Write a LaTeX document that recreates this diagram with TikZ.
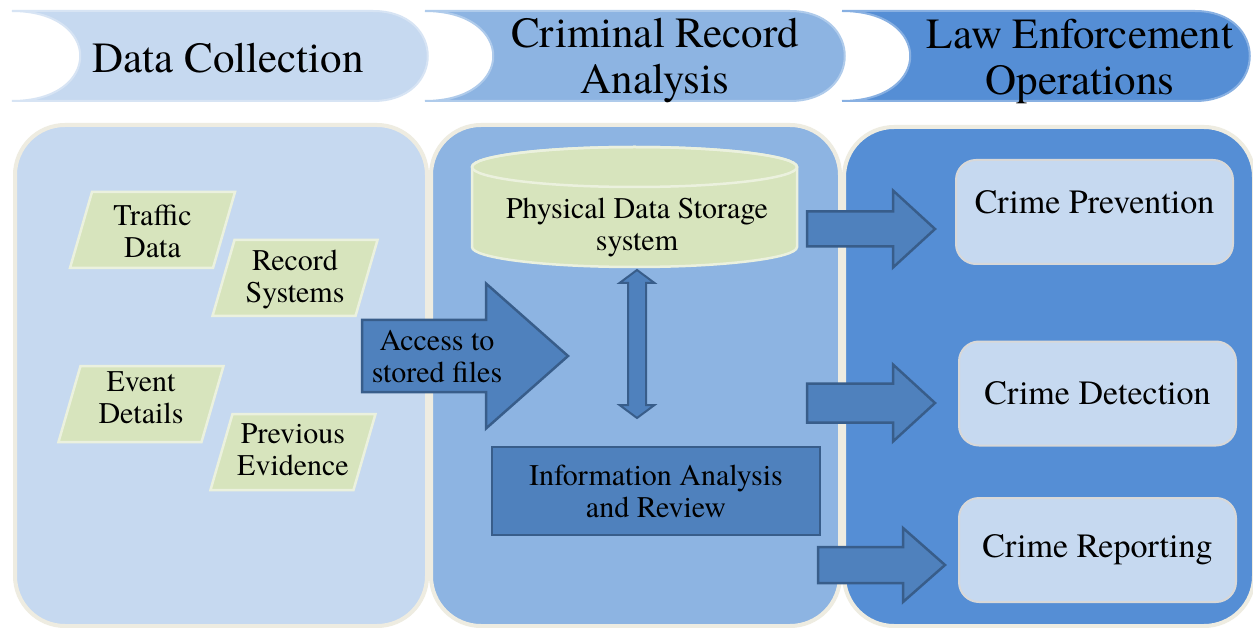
\documentclass[tikz,border=0pt]{standalone}
\usepackage{fontspec}
\setmainfont{TeX Gyre Termes}
\definecolor{bandA}{RGB}{198,217,240}
\definecolor{bandB}{RGB}{141,180,226}
\definecolor{bandC}{RGB}{85,142,213}
\definecolor{cream}{RGB}{238,236,225}
\definecolor{sage}{RGB}{215,228,189}
\definecolor{sageedge}{RGB}{235,241,222}
\definecolor{steel}{RGB}{79,129,189}
\definecolor{steeledge}{RGB}{56,93,138}
\definecolor{boxedge}{RGB}{216,216,216}
\newcommand\hdrband[3]{%
  \filldraw[band, fill=#3, draw=#3!70!white]
    (#1,11) .. controls ({#1+91},11) and ({#1+91},101) .. (#1,101)
    -- (#2,101) .. controls ({#2+73},101) and ({#2+73},11) .. (#2,11) -- cycle;}
\newcommand\paragram[5]{%
  \filldraw[para] ({#2-60.5},{#3-38}) -- ({#2+82.5},{#3-38})
    -- ({#2+60.5},{#3+38}) -- ({#2-82.5},{#3+38}) -- cycle;
  \node[paratext] (#1) at (#2,#5) {#4};}
\newcommand\blockarrow[7]{%
  \coordinate (#1) at (#4,#5);
  \filldraw[barrow] (#2,{#5-#6}) -- (#3,{#5-#6}) -- (#3,{#5-#7}) -- (#1)
    -- (#3,{#5+#7}) -- (#3,{#5+#6}) -- (#2,{#5+#6}) -- cycle;}
\begin{document}
\begin{tikzpicture}[x=1pt,y=-1pt,
  band/.style={line width=2pt},
  panel/.style={draw=cream, line width=4pt, rounded corners=50pt, inner sep=0pt},
  para/.style={draw=sageedge, fill=sage, line width=2.5pt},
  paratext/.style={font=\fontsize{30}{32}\selectfont, align=center, inner sep=0pt},
  bodytext/.style={font=\fontsize{30}{32}\selectfont, align=center, inner sep=0pt},
  barrow/.style={fill=steel, draw=steeledge, line width=2.5pt, line join=miter},
  crimebox/.style={draw=boxedge, fill=bandA, line width=2pt, rounded corners=20pt,
    minimum width=277pt, minimum height=104pt, font=\fontsize{34}{36}\selectfont},
  hdr/.style={font=\fontsize{43}{46}\selectfont, align=center, inner sep=0pt}]
\useasboundingbox (0,0) rectangle (1253,628);
\fill[white] (0,0) rectangle (1253,628);

% header bands
\hdrband{12}{373}{bandA}
\hdrband{425}{790}{bandB}
\hdrband{842}{1195}{bandC}
\node[hdr] (h1) at (228,58) {Data Collection};
\node[hdr] (h2) at (655,61) {Criminal Record\\Analysis};
\node[hdr] (h3) at (1080,61) {Law Enforcement\\Operations};

% panels
\node[panel, fill=bandA, minimum width=412pt, minimum height=501pt] (p1) at (221,375.5) {};
\node[panel, fill=bandB, minimum width=409pt, minimum height=501pt] (p2) at (635.5,375.5) {};
\node[panel, fill=bandC, minimum width=410pt, minimum height=499pt] (p3) at (1049,376.5) {};

% data collection items
\paragram{td}{152.5}{230}{Traffic\\Data}{231}
\paragram{rs}{295}{278}{Record\\Systems}{280}
\paragram{ed}{141}{404}{Event\\Details}{398}
\paragram{pe}{293}{452}{Previous\\Evidence}{450}

% access arrow
\blockarrow{acctip}{362}{486}{568}{356}{36}{72.5}
\node[bodytext] (acc) at (437,357) {Access to\\stored files};

% storage cylinder
\filldraw[para] (472,167) -- (472,247)
  .. controls (472,258.05) and (544.75,267) .. (634.5,267)
  .. controls (724.25,267) and (797,258.05) .. (797,247)
  -- (797,167) .. controls (797,155.95) and (724.25,147) .. (634.5,147)
  .. controls (544.75,147) and (472,155.95) .. (472,167) -- cycle;
\draw[draw=sageedge, line width=2.5pt] (634.5,167) ellipse [x radius=162.5, y radius=20];
\node[bodytext] (pds) at (637,228) {Physical Data Storage\\system};

% vertical double arrow
\coordinate (vtop) at (637,270);
\coordinate (vbot) at (637,418);
\filldraw[barrow, line width=2pt] (vtop) -- (654.5,283) -- (646,283) -- (646,405) -- (654.5,405)
  -- (vbot) -- (619.5,405) -- (628,405) -- (628,283) -- (619.5,283) -- cycle;

% information analysis box
\node[draw=steeledge, fill=steel, line width=2.5pt, minimum width=328pt, minimum height=88pt,
  bodytext] (iar) at (656,491) {Information Analysis\\and Review};

% output arrows
\blockarrow{a1}{807}{893}{935}{229}{17.5}{38.5}
\blockarrow{a2}{807}{893}{935}{403}{19.5}{38.5}
\blockarrow{a3}{818}{903}{945}{565}{18}{37}

% law enforcement boxes
\node[crimebox, text depth=20pt] (cp) at (1094.5,212) {Crime Prevention};
\node[crimebox] (cd) at (1097.5,393.5) {Crime Detection};
\node[crimebox] (cr) at (1097.5,550) {Crime Reporting};
\end{tikzpicture}
\end{document}
